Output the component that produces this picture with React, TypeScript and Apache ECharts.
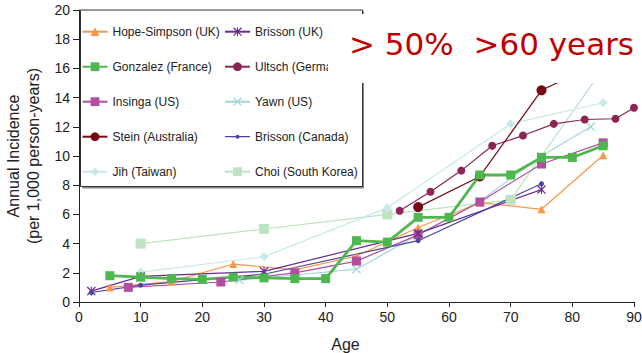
import React, { useEffect, useRef } from "react";
import * as echarts from "echarts";

// ---- Data (age, annual incidence per 1,000 person-years) ----
const xTicks = [0, 10, 20, 30, 40, 50, 60, 70, 80, 90];
const yTicks = [0, 2, 4, 6, 8, 10, 12, 14, 16, 18, 20];

const hopeSimpsonAge = [5, 15, 25, 35, 45, 55, 65, 75, 85];
const hopeSimpsonVal = [1.0, 1.4, 2.6, 2.2, 3.15, 5.1, 6.8, 6.35, 10.05];

const brissonUKAge = [2, 10, 30, 55, 75];
const brissonUKVal = [0.75, 1.75, 2.1, 4.7, 7.7];

const gonzalezAge = [5, 10, 15, 20, 25, 30, 35, 40, 45, 50, 55, 60, 65, 70, 75, 80, 85];
const gonzalezVal = [1.8, 1.7, 1.6, 1.55, 1.7, 1.65, 1.6, 1.6, 4.2, 4.1, 5.8, 5.8, 8.7, 8.7, 9.9, 9.9, 10.7];

const ultschAge = [52, 57, 62, 67, 72, 77, 82, 87, 90];
const ultschVal = [6.25, 7.55, 9.0, 10.7, 11.4, 12.2, 12.5, 12.55, 13.3];

const insingaAge = [8, 23, 35, 45, 55, 65, 75, 85];
const insingaVal = [1.0, 1.37, 2.0, 2.8, 4.6, 6.85, 9.45, 10.9];

const yawnAge = [26, 35, 45, 55, 65, 75, 83];
const yawnVal = [1.5, 1.85, 2.25, 4.6, 6.9, 10.0, 12.0];

const steinAge = [55, 65, 75, 85];
const steinVal = [6.5, 8.6, 14.5, 16.5];

const brissonCanAge = [2, 10, 30, 55, 75];
const brissonCanVal = [0.65, 1.15, 1.9, 4.2, 8.1];

const jihAge = [10, 30, 50, 70, 85];
const jihVal = [2.05, 3.1, 6.45, 12.2, 13.65];

const choiAge = [10, 30, 50, 70, 85];
const choiVal = [4.0, 5.0, 6.0, 7.0, 16.0];

const legendCol1 = ["Hope-Simpson (UK)", "Gonzalez (France)", "Insinga (US)", "Stein (Australia)", "Jih (Taiwan)"];
const legendCol2 = ["Brisson (UK)", "Ultsch (Germany)", "Yawn (US)", "Brisson (Canada)", "Choi (South Korea)"];

const X_PATH = "path://M0,1L1,0L5,4L9,0L10,1L6,5L10,9L9,10L5,6L1,10L0,9L4,5Z";
const AST_PATH = "path://M0,1L1,0L5,4L9,0L10,1L6,5L10,9L9,10L5,6L1,10L0,9L4,5Z M4.4,0L5.6,0L5.6,10L4.4,10Z";
// legend icon for the small-dot series: thin line with a small dot, framed to a 25x11 box
const SMALL_DOT_ICON =
  "path://M0,0L0.01,0M0,11L0.01,11M25,0L24.99,0M0,4.9L25,4.9L25,6.1L0,6.1ZM10.5,5.5A2,2 0 1 1 14.5,5.5A2,2 0 1 1 10.5,5.5Z";

const FONT = "'Liberation Sans', Arial, Helvetica, sans-serif";

function pairs(a: number[], v: number[]) {
  return a.map((x, i) => [x, v[i]]);
}

function mk(name: string, ages: number[], vals: number[], color: string, symbol: string, size: number, width = 1.2) {
  return {
    name,
    type: "line",
    data: pairs(ages, vals),
    symbol,
    symbolSize: size,
    showSymbol: true,
    lineStyle: { color, width },
    itemStyle: { color },
    emphasis: { disabled: true },
    clip: true,
  };
}

export default function App() {
  const ref = useRef<HTMLDivElement>(null);
  useEffect(() => {
    if (!ref.current) return;
    const chart = echarts.init(ref.current, null, { renderer: "svg" });
    const series = [
      mk("Choi (South Korea)", choiAge, choiVal, "#BDE3C0", "rect", 10),
      mk("Jih (Taiwan)", jihAge, jihVal, "#C6EAE8", "diamond", 9),
      mk("Yawn (US)", yawnAge, yawnVal, "#9FD8D8", X_PATH, 9),
      mk("Hope-Simpson (UK)", hopeSimpsonAge, hopeSimpsonVal, "#F8964A", "triangle", 8),
      mk("Insinga (US)", insingaAge, insingaVal, "#B04EA0", "rect", 9),
      mk("Brisson (UK)", brissonUKAge, brissonUKVal, "#6A2C8E", AST_PATH, 9),
      mk("Brisson (Canada)", brissonCanAge, brissonCanVal, "#4A46A0", "circle", 5),
      mk("Ultsch (Germany)", ultschAge, ultschVal, "#8C2555", "circle", 8),
      mk("Stein (Australia)", steinAge, steinVal, "#760A14", "circle", 10),
      mk("Gonzalez (France)", gonzalezAge, gonzalezVal, "#4DB84E", "rect", 9, 2.8),
    ];
    const legendCommon = {
      orient: "vertical",
      top: 25.7,
      padding: 0,
      itemWidth: 25,
      itemHeight: 11,
      itemGap: 23,
      z: 10,
      selectedMode: false,
      textStyle: { fontFamily: FONT, fontSize: 12, color: "#222" },
    };
    chart.setOption({
      animation: false,
      backgroundColor: "#fff",
      grid: { left: 79, right: 8, top: 10, bottom: 51, containLabel: false, outerBoundsMode: "none" },
      xAxis: {
        type: "value",
        min: xTicks[0],
        max: xTicks[xTicks.length - 1],
        interval: 10,
        name: "Age",
        nameLocation: "middle",
        nameGap: 34,
        nameTextStyle: { fontFamily: FONT, fontSize: 16, color: "#222", padding: [0, 22, 0, 0] },
        axisLine: { show: true, lineStyle: { color: "#222", width: 1 } },
        axisTick: { show: true, inside: false, length: 5, lineStyle: { color: "#222" } },
        axisLabel: { fontFamily: FONT, fontSize: 14, color: "#222", margin: 8, showMaxLabel: true },
        splitLine: { show: false },
      },
      yAxis: {
        type: "value",
        min: yTicks[0],
        max: yTicks[yTicks.length - 1],
        interval: 2,
        name: "Annual Incidence\n(per 1,000 person-years)",
        nameLocation: "middle",
        nameRotate: 90,
        nameGap: 36,
        nameTextStyle: { fontFamily: FONT, fontSize: 16, color: "#222", lineHeight: 19.5 },
        axisLine: { show: true, lineStyle: { color: "#222", width: 1 } },
        axisTick: { show: true, inside: false, length: 6, lineStyle: { color: "#222" } },
        axisLabel: { fontFamily: FONT, fontSize: 14, color: "#222", margin: 9 },
        splitLine: { show: false },
      },
      legend: [
        { ...legendCommon, left: 81.5, data: legendCol1 },
        {
          ...legendCommon,
          left: 224,
          data: legendCol2.map((n) =>
            n === "Brisson (Canada)" ? { name: n, icon: SMALL_DOT_ICON } : n
          ),
        },
      ],
      graphic: [
        { type: "rect", z: 6, shape: { x: 82.5, y: 11, width: 281.5, height: 177.5 }, style: { fill: "#8a8a8a" } },
        { type: "rect", z: 7, shape: { x: 80.5, y: 10, width: 282, height: 176.5 }, style: { fill: "#fff", stroke: "#333", lineWidth: 1 } },
        { type: "rect", z: 20, shape: { x: 328, y: 14, width: 314, height: 69 }, style: { fill: "#fff" } },
        {
          type: "text",
          z: 21,
          x: 349,
          y: 44,
          style: {
            text: "> 50%  >60 years",
            fill: "#C00000",
            font: "31px 'DejaVu Sans', sans-serif",
            verticalAlign: "middle",
            align: "left",
          },
        },
      ],
      series,
    });
    return () => chart.dispose();
  }, []);
  return <div ref={ref} style={{ position: "absolute", left: 0, top: 0, width: 642, height: 353 }} />;
}
